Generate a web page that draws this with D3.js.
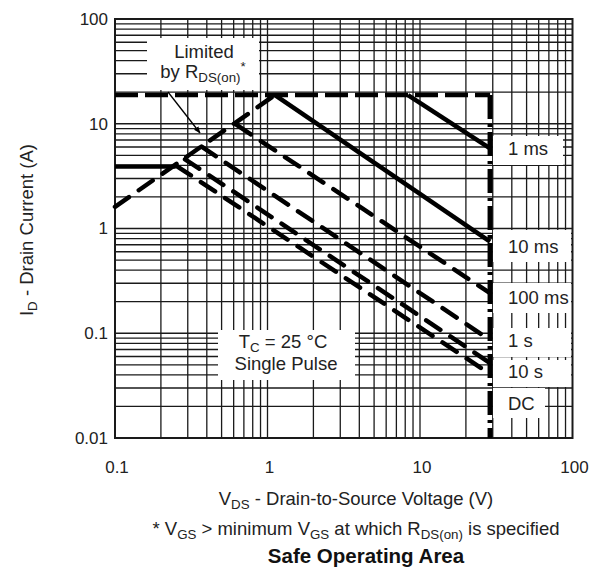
<!DOCTYPE html>
<html>
<head>
<meta charset="utf-8">
<script src="https://cdn.jsdelivr.net/npm/d3@7"></script>
<style>
  body { margin: 0; background: #fff; }
  text { font-family: "Liberation Sans", Arial, sans-serif; fill: #222; }
</style>
</head>
<body>
<svg id="chart" width="605" height="573"></svg>
<script>
// axis ticks
var xTicks = [0.1, 1, 10, 100];
var yTicks = [0.01, 0.1, 1, 10, 100];

// pulse lines, all end on the VDS limit
var pulseNames = ["1 ms", "10 ms", "100 ms", "1 s", "10 s", "DC"];
var pulseStartV = [8.34, 1.12, 0.628, 0.37, 0.288, 0.254];
var pulseStartI = [18.8, 18.8, 9.73, 6.04, 4.58, 3.95];
var pulseEndI = [5.83, 0.748, 0.241, 0.0862, 0.052, 0.0408];

// limits
var vdsMax = 28.8;
var idMax = 18.8;
var rdsV = [0.1, 1.12];
var rdsI = [1.61, 18.8];
var pkgV = [0.1, 0.25];
var pkgI = [3.9, 3.9];

const svg = d3.select("#chart");
const pLeft = 115, pRight = 572.5, pTop = 19, pBottom = 438;

const x = d3.scaleLog().domain([0.1, 100]).range([pLeft, pRight]);
const y = d3.scaleLog().domain([0.01, 100]).range([pBottom, pTop]);

// grid - every 1..9 in each decade
var gx = [], gy = [];
[0.1, 1, 10].forEach(d => { for (let k = 1; k <= 9; k++) gx.push(d * k); });
[0.01, 0.1, 1, 10].forEach(d => { for (let k = 1; k <= 9; k++) gy.push(d * k); });

const grid = svg.append("g").attr("stroke", "#1a1a1a").attr("stroke-width", 1.3);
grid.selectAll(".gx").data(gx).join("line")
    .attr("x1", d => x(d)).attr("x2", d => x(d))
    .attr("y1", pTop).attr("y2", pBottom);
grid.selectAll(".gy").data(gy).join("line")
    .attr("y1", d => y(d)).attr("y2", d => y(d))
    .attr("x1", pLeft).attr("x2", pRight);

// white boxes behind the labels
const boxes = [
    [147, 38, 112, 52],   // Limited by
    [218, 330, 137, 50],  // Tc
    [493, 136, 70, 29],   // 1 ms
    [493, 230, 78, 32],   // 10 ms
    [493, 283, 78, 30],   // 100 ms
    [493, 328, 78, 29],   // 1 s
    [493, 360, 78, 27],   // 10 s
    [493, 388, 52, 30]    // DC
];
svg.append("g").selectAll("rect").data(boxes).join("rect")
    .attr("x", d => d[0]).attr("y", d => d[1])
    .attr("width", d => d[2]).attr("height", d => d[3])
    .attr("fill", "#fff");

svg.append("rect")
    .attr("x", pLeft).attr("y", pTop)
    .attr("width", pRight - pLeft).attr("height", pBottom - pTop)
    .attr("fill", "none").attr("stroke", "#1a1a1a").attr("stroke-width", 2);

const line = d3.line().x(d => x(d[0])).y(d => y(d[1]));
const curves = svg.append("g").attr("fill", "none").attr("stroke", "#000");

// top current limit
curves.append("path")
    .attr("d", line([[0.1, idMax], [vdsMax, idMax]]))
    .attr("stroke-width", 4.5)
    .attr("stroke-dasharray", "23,7");

// voltage limit
curves.append("path")
    .attr("d", line([[vdsMax, idMax], [vdsMax, 0.01]]))
    .attr("stroke-width", 5)
    .attr("stroke-dasharray", "24,5,3,5");

// rds(on) limit
curves.append("path")
    .attr("d", line(rdsV.map((v, i) => [v, rdsI[i]])))
    .attr("stroke-width", 4.5)
    .attr("stroke-linecap", "round")
    .attr("stroke-dasharray", "17,12");

curves.append("path")
    .attr("d", line(pkgV.map((v, i) => [v, pkgI[i]])))
    .attr("stroke-width", 4.5);

pulseNames.forEach((name, i) => {
    const solid = (name === "1 ms" || name === "10 ms");
    curves.append("path")
        .attr("d", line([[pulseStartV[i], pulseStartI[i]], [vdsMax, pulseEndI[i]]]))
        .attr("stroke-width", 4.5)
        .attr("stroke-linecap", solid ? "butt" : "round")
        .attr("stroke-dasharray", solid ? null : "17,12");
});

// arrow
svg.append("defs").append("marker")
    .attr("id", "arr").attr("viewBox", "0 0 10 10")
    .attr("refX", 9).attr("refY", 5)
    .attr("markerWidth", 7).attr("markerHeight", 7)
    .attr("markerUnits", "userSpaceOnUse")
    .attr("orient", "auto")
    .append("path").attr("d", "M0,1 L10,5 L0,9 Z").attr("fill", "#000");
svg.append("line")
    .attr("x1", 168).attr("y1", 92).attr("x2", 200).attr("y2", 133)
    .attr("stroke", "#000").attr("stroke-width", 1.3)
    .attr("marker-end", "url(#arr)");

// rich text helper: parts = [text, "n"|"sub"|"sup"]
function rich(sel, parts, fs) {
    let shift = 0;
    parts.forEach(p => {
        let target = p[1] === "sub" ? 4 : (p[1] === "sup" ? -7 : 0);
        sel.append("tspan")
            .attr("dy", target - shift)
            .attr("font-size", p[1] === "n" ? fs : fs * 0.72)
            .text(p[0]);
        shift = target;
    });
    return sel;
}

const fs = 18.5;

// tick labels
svg.append("g").selectAll("text").data(xTicks).join("text")
    .attr("x", d => x(d) + 2).attr("y", 473)
    .attr("text-anchor", "middle").attr("font-size", 17)
    .text(d => d);
svg.append("g").selectAll("text").data(yTicks).join("text")
    .attr("x", 108).attr("y", d => y(d)).attr("dy", "0.35em")
    .attr("text-anchor", "end").attr("font-size", 17)
    .text(d => d);

// axis titles
rich(svg.append("text").attr("x", 356).attr("y", 505).attr("text-anchor", "middle").attr("font-size", fs),
    [["V", "n"], ["DS", "sub"], [" - Drain-to-Source Voltage (V)", "n"]], fs);
rich(svg.append("text").attr("x", 356).attr("y", 535).attr("text-anchor", "middle").attr("font-size", fs),
    [["* V", "n"], ["GS", "sub"], [" > minimum V", "n"], ["GS", "sub"], [" at which R", "n"],
     ["DS(on)", "sub"], [" is specified", "n"]], fs);
svg.append("text").attr("x", 366).attr("y", 563).attr("text-anchor", "middle")
    .attr("font-size", 20.5).attr("font-weight", "bold").style("fill", "#111")
    .text("Safe Operating Area");
rich(svg.append("text").attr("transform", "translate(33,230) rotate(-90)")
    .attr("text-anchor", "middle").attr("font-size", fs),
    [["I", "n"], ["D", "sub"], [" - Drain Current (A)", "n"]], fs);

// in-plot labels
svg.append("text").attr("x", 204).attr("y", 58).attr("text-anchor", "middle")
    .attr("font-size", fs).text("Limited");
rich(svg.append("text").attr("x", 203).attr("y", 78).attr("text-anchor", "middle").attr("font-size", fs),
    [["by R", "n"], ["DS(on)", "sub"], ["*", "sup"]], fs);
rich(svg.append("text").attr("x", 283).attr("y", 348).attr("text-anchor", "middle").attr("font-size", fs),
    [["T", "n"], ["C", "sub"], [" = 25 °C", "n"]], fs);
svg.append("text").attr("x", 286).attr("y", 370).attr("text-anchor", "middle")
    .attr("font-size", fs).text("Single Pulse");

var labelY = [155, 252.5, 304, 346.5, 378, 410];
pulseNames.forEach((name, i) => {
    svg.append("text").attr("x", 508).attr("y", labelY[i])
        .attr("font-size", fs).text(name);
});
</script>
</body>
</html>
